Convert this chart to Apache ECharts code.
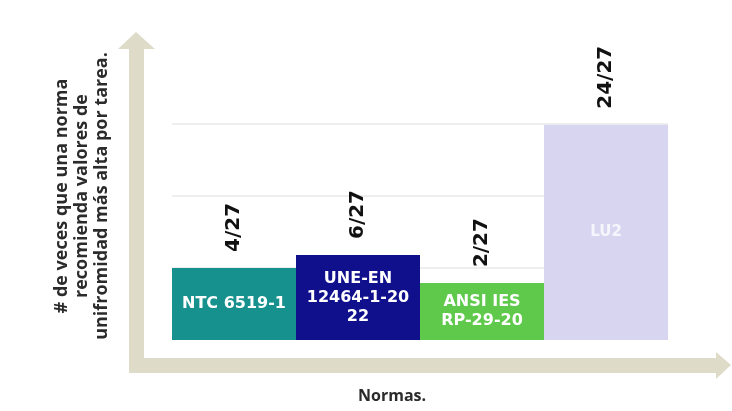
<!DOCTYPE html>
<html>
<head>
<meta charset="utf-8">
<script src="https://cdn.jsdelivr.net/npm/echarts@6/dist/echarts.min.js"></script>
<style>
  html, body { margin: 0; padding: 0; background: #fff; }
  #main { width: 732px; height: 411px; }
</style>
</head>
<body>
<div id="main"></div>
<script>
// normas y su conteo (barras con altura tal como se ven en la imagen)
const normas = ['NTC 6519-1', 'UNE-EN\n12464-1-20\n22', 'ANSI IES\nRP-29-20', 'LU2'];
const alturas = [1.0, 1.18, 0.79, 2.99];
const conteos = ['4/27', '6/27', '2/27', '24/27'];
const colores = ['#17918e', '#10108d', '#5fc94b', '#d7d5ef'];

const condensed = "'DejaVu Sans', sans-serif";
const axisColor = '#dedbc9';

let myChart = echarts.init(document.getElementById('main'));

myChart.setOption({
  animation: false,
  grid: { left: 172, right: 64, top: 52, bottom: 71 },
  xAxis: {
    type: 'category',
    data: normas,
    axisLine: { show: false },
    axisTick: { show: false },
    axisLabel: { show: false }
  },
  yAxis: {
    type: 'value',
    min: 0,
    max: 4,
    interval: 1,
    name: '# de veces que una norma\nrecomienda valores de\nunifromidad más alta por tarea.',
    nameLocation: 'middle',
    nameRotate: 90,
    nameGap: 60,
    nameTextStyle: {
      fontFamily: 'Open Sans, sans-serif',
      fontWeight: 'bold',
      fontSize: 18,
      lineHeight: 20,
      color: '#2b2b2b',
      align: 'center'
    },
    axisLine: { show: false },
    axisTick: { show: false },
    axisLabel: { show: false },
    splitLine: {
      lineStyle: {
        color: ['rgba(0,0,0,0)', '#eeeeee', '#eeeeee', '#eeeeee', 'rgba(0,0,0,0)'],
        width: 2
      }
    }
  },
  series: [
    {
      type: 'bar',
      barCategoryGap: 0,
      data: alturas.map((v, i) => ({ value: v, itemStyle: { color: colores[i] } })),
      label: {
        show: true,
        position: 'inside',
        formatter: (p) => p.dataIndex === 3 ? '{s|' + normas[3] + '}' : normas[p.dataIndex],
        color: '#ffffff',
        fontFamily: condensed,
        fontWeight: 'bold',
        fontSize: 16,
        lineHeight: 19,
        rich: {
          s: { fontSize: 15, color: '#f6f5fc', fontFamily: condensed, fontWeight: 'bold' }
        }
      },
      z: 2
    },
    {
      // etiquetas de conteo encima de cada barra
      type: 'bar',
      barCategoryGap: 0,
      barGap: '-100%',
      data: alturas,
      itemStyle: { color: 'rgba(0,0,0,0)' },
      label: {
        show: true,
        position: 'top',
        rotate: 90,
        align: 'left',
        verticalAlign: 'middle',
        distance: 16,
        formatter: (p) => conteos[p.dataIndex],
        color: '#111',
        fontFamily: condensed,
        fontWeight: 'bold',
        fontSize: 20
      },
      z: 3
    }
  ],
  graphic: [
    // ejes decorativos con flecha
    { type: 'rect', shape: { x: 129, y: 46, width: 15, height: 327 }, style: { fill: axisColor } },
    { type: 'polygon', shape: { points: [[136, 32], [118, 49], [155, 49]] }, style: { fill: axisColor } },
    { type: 'rect', shape: { x: 129, y: 358, width: 589, height: 15 }, style: { fill: axisColor } },
    { type: 'polygon', shape: { points: [[731, 365], [716, 352], [716, 379]] }, style: { fill: axisColor } },
    {
      type: 'text',
      left: 358,
      top: 388,
      style: {
        text: 'Normas.',
        fill: '#2b2b2b',
        fontFamily: 'Open Sans, sans-serif',
        fontWeight: 'bold',
        fontSize: 16
      }
    }
  ]
});

window.onresize = function () {
  myChart.resize();
}
</script>
</body>
</html>
